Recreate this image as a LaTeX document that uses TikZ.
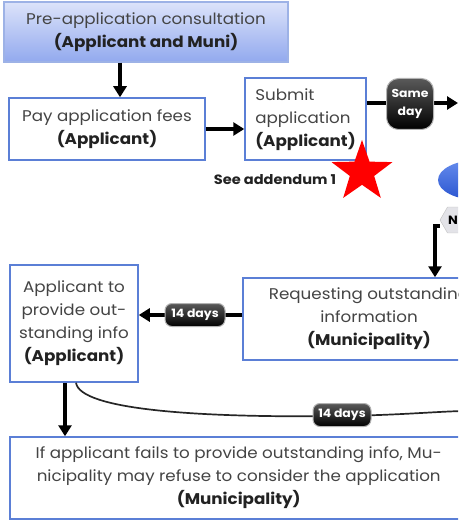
\documentclass[tikz,border=0pt]{standalone}
\usepackage{fontspec}
\setmainfont{Poppins}[FakeStretch=1.08]
\usetikzlibrary{arrows.meta,shapes.geometric,shadings}
\definecolor{boxblue}{HTML}{5B7FD6}
\definecolor{txt}{HTML}{444444}
\definecolor{txtb}{HTML}{222222}
\definecolor{toplight}{HTML}{DCE3FA}
\definecolor{topdark}{HTML}{92A9EE}
\definecolor{ellblue}{HTML}{3F6FE8}
\definecolor{elldark}{HTML}{2A55D0}
\tikzset{
  box/.style={draw=boxblue,line width=1.5pt,fill=white,text=txt,align=center,inner sep=0pt,
    font=\fontsize{15.5}{23}\selectfont},
  arr/.style={line width=3.4pt,-{Triangle[length=11pt,width=13pt]}},
  pill/.style={draw=gray!60,line width=1pt,rounded corners=7pt,top color=gray!70!black,bottom color=black,
    text=white,font=\fontsize{11.5}{13}\selectfont\bfseries,inner sep=0pt,minimum height=23pt},
  curve/.style={line width=1.7pt,black!85},
}
\begin{document}
\begin{tikzpicture}[x=1pt,y=-1pt]
\useasboundingbox (0,0) rectangle (458,521);
\clip (0,0) rectangle (458,521);
% top box
\node[box,draw=boxblue!60,top color=toplight,bottom color=topdark,minimum width=284pt,minimum height=60pt] (pre) at (146,32)
  {Pre-application consultation\\\textbf{\color{txtb}(Applicant and Muni)}};
\node[box,minimum width=196pt,minimum height=62pt] (pay) at (107,129)
  {Pay application fees\\\textbf{\color{txtb}(Applicant)}};
\node[box,minimum width=121pt,minimum height=82pt] (sub) at (305.5,119)
  {\begin{tabular}{@{}l@{}}Submit\\application\\\textbf{\color{txtb}(Applicant)}\end{tabular}};
\node[box,minimum width=252pt,minimum height=82pt] (req) at (369,319)
  {Requesting outstanding\\information\\\textbf{\color{txtb}(Municipality)}};
\node[box,minimum width=128pt,minimum height=117pt] (app) at (74,323.5)
  {Applicant to\\provide out-\\standing info\\\textbf{\color{txtb}(Applicant)}};
\node[box,minimum width=458pt,minimum height=82pt,anchor=west] (fail) at (9,478)
  {If applicant fails to provide outstanding info, Mu-\\nicipality may refuse to consider the application\\\textbf{\color{txtb}(Municipality)}};
% right-edge shapes
\node[ellipse,minimum width=80pt,minimum height=40pt,inner sep=0pt,top color=ellblue!80!white,bottom color=elldark] (ell) at (478,180) {};
\node[regular polygon,regular polygon sides=6,minimum size=30pt,inner sep=0pt,draw=gray!50,fill=blue!8!gray!20,
  font=\fontsize{12}{12}\selectfont\bfseries] (hex) at (455,220) {\hspace*{-4pt}N};
\node[star,star points=5,star point ratio=2.5,minimum size=64pt,inner sep=0pt,fill=red] (star) at (362,172) {};
\node[font=\fontsize{13.5}{14}\selectfont\bfseries,text=txtb] (see) at (275,180) {See addendum 1};
% coordinates
\coordinate (sdend) at (458,103);
\coordinate (cend) at (462,411);
% connectors
\draw[arr] (pre.south -| 120,0) -- (pay.north -| 120,0);
\draw[arr] (pay.east) -- (sub.west |- pay.east);
\draw[arr] ([yshift=16pt]sub.east) -- (sdend);
\node[pill,rounded corners=12pt,minimum width=47pt,minimum height=51pt,align=center,font=\fontsize{11.5}{18}\selectfont\bfseries] (same) at (410,104) {Same\\day};
\draw[arr] ([yshift=-6pt]hex.west) -| ([xshift=66pt]req.north);
\draw[arr] ([yshift=4pt]req.west) -- ([yshift=8.5pt]app.east);
\node[pill,minimum width=60pt] (d1) at (195,315) {14 days};
\draw[arr] ([xshift=-9pt]app.south) -- ([xshift=-9pt]app.south |- fail.north);
\draw[curve] ([xshift=2pt]app.south) .. controls (80,410) and (200,418) .. (342,416) .. controls (400,415) and (430,412) .. (cend);
\node[pill,minimum width=58pt] (d2) at (342,415) {14 days};
\end{tikzpicture}
\end{document}
